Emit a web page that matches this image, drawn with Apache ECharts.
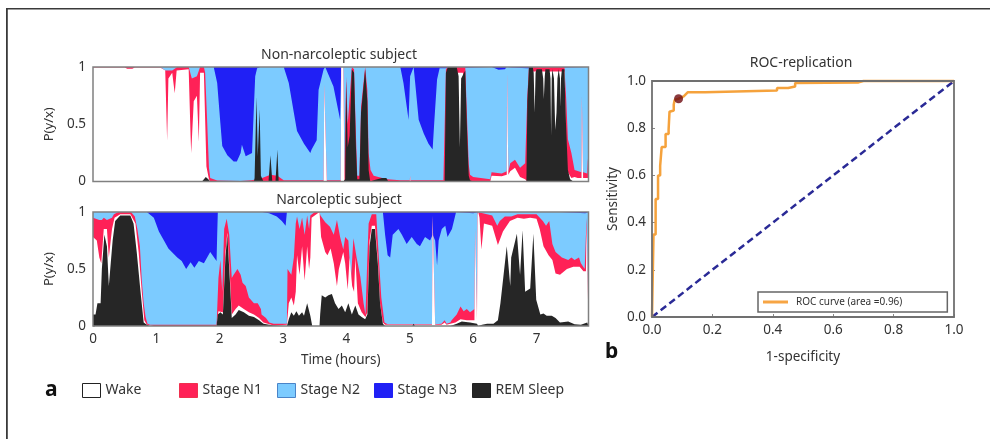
<!DOCTYPE html>
<html><head><meta charset="utf-8">
<style>html,body{margin:0;padding:0;background:#fff}#c{width:990px;height:439px}canvas{filter:blur(.5px)}</style>
<script src="https://cdn.jsdelivr.net/npm/echarts@6/dist/echarts.min.js"></script>
</head><body><div id="c"></div>
<script>
// Hypnodensity panels: each array is [hours, cumulative probability at the top of that stage]
const n3TopA=[[0,1],[7.82,1]];
const n2TopA=[[0,1],[1.905,1],[1.96,.86],[2.01,.51],[2.04,.31],[2.12,.23],[2.22,.175],[2.27,.175],[2.33,.25],[2.35,.32],[2.41,.22],[2.51,.25],[2.54,.66],[2.56,.92],[2.59,.99],[2.64,1],[3.01,1],[3.09,.86],[3.17,.6],[3.22,.44],[3.33,.33],[3.43,.25],[3.45,.28],[3.53,.36],[3.56,.8],[3.64,.98],[3.665,1],[3.69,1],[3.795,.83],[3.875,.61],[3.9,.54],[3.917,1],[4.85,1],[4.9,.86],[4.98,.54],[5.005,.92],[5.06,1],[5.085,.86],[5.14,.54],[5.22,.42],[5.295,.33],[5.36,.28],[5.385,.51],[5.43,.89],[5.47,.99],[5.49,1],[5.5,.995],[5.55,.99],[5.58,1],[6.295,1],[6.4,.975],[6.5,.98],[6.53,1],[6.6,.995],[6.85,.99],[6.88,1],[7.82,1]];
const n1TopA=[[0,1],[1.06,1],[1.14,.97],[1.25,.97],[1.33,1],[1.51,1],[1.56,.9],[1.64,.92],[1.69,1],[1.75,1],[1.77,.95],[1.8,.55],[1.83,.12],[1.85,.03],[1.96,.008],[2.33,.005],[2.5,.01],[2.59,.02],[2.67,.03],[2.8,.06],[2.91,.05],[3.01,.01],[3.64,.01],[3.65,.85],[3.675,.85],[3.69,.01],[3.91,.01],[3.917,1],[3.95,1],[3.97,.05],[3.995,.92],[4.02,.5],[4.085,1],[4.12,.98],[4.15,.4],[4.17,.05],[4.205,.05],[4.23,.65],[4.295,1],[4.33,.8],[4.35,.25],[4.38,.1],[4.43,.05],[4.64,.02],[4.85,.01],[5,.01],[5.005,.05],[5.01,.01],[5.53,.01],[5.57,.98],[5.6,1],[5.875,1],[5.9,.6],[5.93,.15],[5.95,.06],[6,.04],[6.27,.02],[6.29,.08],[6.45,.07],[6.53,.09],[6.535,.95],[6.55,.95],[6.555,.09],[6.585,.16],[6.66,.19],[6.74,.12],[6.82,.16],[6.855,.75],[6.88,1],[7.44,1],[7.47,.7],[7.495,.37],[7.55,.25],[7.6,.1],[7.71,.08],[7.715,.75],[7.73,.75],[7.735,.08],[7.8,.07],[7.81,.2],[7.82,.08]];
const wakeTopA=[[0,.995],[.5,.995],[.54,.985],[.62,.985],[.66,.995],[1.06,.995],[1.14,.97],[1.17,.36],[1.19,.9],[1.25,.95],[1.29,.77],[1.32,.97],[1.51,.98],[1.54,.4],[1.55,.25],[1.59,.7],[1.64,.75],[1.67,.35],[1.69,.95],[1.75,.95],[1.79,.13],[1.83,.02],[1.85,0],[3.64,0],[3.65,.85],[3.675,.85],[3.69,0],[3.91,0],[3.917,1],[3.95,1],[3.97,0],[5,0],[5.005,.05],[5.01,0],[5.6,0],[5.74,.95],[5.84,.95],[5.9,0],[6.27,0],[6.29,.05],[6.45,.045],[6.53,.06],[6.535,.95],[6.55,.95],[6.555,.06],[6.585,.09],[6.66,.12],[6.74,.04],[6.82,.02],[6.855,0],[6.88,.96],[7.44,.96],[7.48,0],[7.495,.08],[7.55,.03],[7.6,.04],[7.65,.03],[7.71,.03],[7.715,.75],[7.73,.75],[7.735,.03],[7.82,.03]];
const remTopA=[[0,0],[1.72,0],[1.75,.01],[1.78,.04],[1.82,.02],[1.85,0],[2.54,0],[2.55,.03],[2.58,.74],[2.6,.22],[2.63,.63],[2.65,.05],[2.69,0],[2.77,0],[2.8,.23],[2.83,0],[2.88,0],[2.91,.28],[2.93,0],[3.95,0],[3.98,.02],[3.995,.88],[4.02,.3],[4.05,.4],[4.085,.98],[4.12,.95],[4.15,.3],[4.17,.02],[4.205,.02],[4.23,.6],[4.295,.98],[4.33,.7],[4.35,.1],[4.375,0],[4.43,.01],[4.56,.03],[4.63,.03],[4.66,0],[5.55,0],[5.57,.95],[5.6,1],[5.74,1],[5.77,.92],[5.79,.3],[5.81,.9],[5.875,.97],[5.9,.5],[5.93,.05],[5.95,.01],[6,0],[6.84,0],[6.855,.7],[6.88,1],[6.94,1],[6.955,.95],[6.97,.6],[6.985,.95],[7,.98],[7.085,.98],[7.105,.9],[7.115,.72],[7.13,.92],[7.14,.98],[7.205,.98],[7.22,.9],[7.23,.4],[7.24,.9],[7.25,.98],[7.275,.9],[7.295,.45],[7.315,.6],[7.33,.9],[7.35,.98],[7.37,.9],[7.378,.65],[7.386,.9],[7.4,.98],[7.44,.98],[7.465,.5],[7.495,.1],[7.53,.02],[7.58,0],[7.82,0]];

const n3TopB=[[0,1],[7.82,1]];
const n2TopB=[[0,1],[.85,1],[.96,.95],[1.04,.83],[1.12,.75],[1.19,.68],[1.33,.6],[1.4,.57],[1.47,.5],[1.54,.56],[1.6,.51],[1.67,.57],[1.75,.55],[1.85,.65],[1.95,.57],[1.96,.8],[1.97,1],[2.67,1],[2.78,.99],[2.9,.96],[2.98,.92],[3.04,.88],[3.06,1],[4.575,1],[4.61,.8],[4.65,.62],[4.69,.6],[4.73,.8],[4.82,.85],[4.875,.8],[4.95,.72],[5.03,.78],[5.11,.72],[5.16,.7],[5.24,.78],[5.32,.75],[5.36,.8],[5.4,.75],[5.43,.53],[5.455,.75],[5.505,.85],[5.56,.88],[5.595,.78],[5.665,.85],[5.73,1],[6,.99],[6.08,1],[7.37,1],[7.4,.99],[7.77,.99],[7.8,1],[7.82,1]];
const n1TopB=[[0,.95],[.1,.93],[.14,.93],[.17,.95],[.22,.93],[.3,.95],[.33,.98],[.4,1],[.6,1],[.66,.96],[.7,.85],[.74,.7],[.77,.4],[.8,.2],[.83,.08],[.86,.02],[.9,.01],[1.95,.01],[1.96,.02],[1.98,.42],[2.01,.58],[2.04,.3],[2.07,.85],[2.11,.94],[2.15,.8],[2.19,.42],[2.22,.45],[2.28,.5],[2.33,.45],[2.36,.38],[2.41,.35],[2.46,.25],[2.49,.25],[2.54,.2],[2.6,.2],[2.65,.15],[2.66,.1],[2.73,.07],[2.78,.03],[2.85,.02],[3.06,.02],[3.07,.5],[3.09,.5],[3.13,.45],[3.17,.6],[3.2,.9],[3.22,.96],[3.26,.85],[3.3,.95],[3.34,.8],[3.38,.97],[3.41,.85],[3.43,.97],[3.46,.98],[3.5,1],[3.575,1],[3.59,.97],[3.665,.91],[3.74,.87],[3.8,.8],[3.85,.93],[3.9,.78],[3.95,.67],[3.98,.78],[4.03,.75],[4.07,.4],[4.11,.77],[4.16,.6],[4.22,.43],[4.27,.2],[4.3,.1],[4.33,.6],[4.35,.9],[4.4,.98],[4.47,.98],[4.5,.7],[4.55,.25],[4.6,.03],[4.65,.015],[5.03,.015],[5.06,.03],[5.1,.015],[5.35,.015],[5.36,.97],[5.39,.97],[5.4,.015],[5.43,.03],[5.5,.02],[5.55,.05],[5.58,.02],[5.64,.03],[5.66,.05],[5.74,.1],[5.8,.17],[5.85,.13],[5.9,.15],[5.95,.12],[6.02,.15],[6.03,.85],[6.05,.85],[6.06,.1],[6.07,1],[6.3,.97],[6.38,.88],[6.42,.92],[6.5,.96],[6.6,.96],[6.7,.98],[7,.98],[7.1,.92],[7.15,.88],[7.2,.92],[7.25,.72],[7.3,.65],[7.4,.6],[7.5,.58],[7.55,.6],[7.6,.58],[7.67,.6],[7.7,.55],[7.76,.5],[7.78,.5],[7.79,.95],[7.82,.95]];
const wakeTopB=[[0,.78],[.06,.75],[.1,.6],[.13,.55],[.17,.85],[.22,.85],[.25,.6],[.3,.85],[.34,.95],[.43,.98],[.59,.98],[.67,.9],[.72,.65],[.77,.3],[.81,.05],[.85,.01],[.96,0],[1.95,0],[1.98,.13],[2.05,.12],[2.09,.65],[2.12,.82],[2.16,.45],[2.19,.1],[2.25,.15],[2.3,.18],[2.38,.15],[2.46,.12],[2.54,.1],[2.62,.07],[2.69,.03],[2.85,.005],[3.06,.01],[3.09,.2],[3.13,.25],[3.17,.18],[3.2,.3],[3.22,.62],[3.26,.45],[3.3,.7],[3.34,.4],[3.38,.7],[3.41,.5],[3.43,.6],[3.45,.95],[3.575,1],[3.6,.78],[3.665,.65],[3.7,.62],[3.75,.68],[3.8,.55],[3.85,.35],[3.88,.5],[3.95,.65],[3.98,.55],[4.02,.32],[4.05,.6],[4.09,.35],[4.12,.3],[4.14,.6],[4.18,.2],[4.24,.12],[4.3,.08],[4.33,.12],[4.365,.75],[4.4,.88],[4.45,.88],[4.495,.58],[4.53,.2],[4.575,.03],[4.61,.01],[5.35,.01],[5.36,.97],[5.39,.97],[5.4,.01],[5.43,.02],[5.5,.01],[5.55,.03],[5.58,.01],[5.64,.02],[5.72,.03],[5.8,.06],[5.9,.05],[6.02,.05],[6.03,.85],[6.05,.85],[6.06,.06],[6.07,.98],[6.08,1],[6.1,.95],[6.13,.67],[6.17,.9],[6.3,.88],[6.39,.71],[6.47,.83],[6.58,.92],[6.7,.95],[6.8,.94],[6.9,.95],[7,.94],[7.05,.85],[7.11,.7],[7.19,.62],[7.25,.58],[7.3,.46],[7.37,.45],[7.48,.5],[7.58,.52],[7.68,.52],[7.74,.48],[7.78,.48],[7.79,.9],[7.82,.9]];
const remTopB=[[0,.1],[.04,.1],[.07,.2],[.12,.2],[.14,.5],[.18,.8],[.22,.7],[.25,.35],[.28,.35],[.31,.75],[.35,.92],[.43,.97],[.59,.97],[.64,.9],[.69,.65],[.75,.3],[.8,.03],[.85,.01],[.9,0],[1.95,0],[1.97,.1],[2.01,.12],[2.05,.1],[2.09,.6],[2.12,.8],[2.16,.4],[2.19,.07],[2.25,.1],[2.3,.14],[2.38,.12],[2.46,.09],[2.54,.08],[2.62,.05],[2.69,.02],[2.85,.005],[3.06,0],[3.09,.06],[3.13,.12],[3.17,.09],[3.21,.13],[3.25,.09],[3.3,.12],[3.33,.09],[3.38,.2],[3.43,.09],[3.46,0],[3.575,0],[3.585,.1],[3.61,.27],[3.665,.25],[3.715,.27],[3.77,.28],[3.82,.2],[3.875,.15],[3.927,.18],[3.98,.12],[4.03,.2],[4.085,.1],[4.14,.18],[4.19,.1],[4.24,.08],[4.295,.06],[4.33,.1],[4.365,.7],[4.4,.85],[4.45,.85],[4.495,.55],[4.53,.2],[4.575,.02],[4.61,0],[5.04,0],[5.06,.02],[5.08,0],[5.64,0],[5.74,.02],[5.82,.04],[5.95,.03],[6.06,.02],[6.08,0],[6.14,.01],[6.22,.02],[6.32,.02],[6.39,.05],[6.43,.2],[6.48,.45],[6.53,.7],[6.585,.35],[6.6,.6],[6.69,.81],[6.74,.45],[6.78,.84],[6.82,.3],[6.9,.33],[6.95,.81],[6.995,.23],[7.06,.1],[7.11,.11],[7.16,.09],[7.24,.09],[7.3,.07],[7.37,.03],[7.5,.04],[7.6,.015],[7.7,.01],[7.8,.03],[7.82,.03]];

// ROC replication
const rocCurve=[[0,0],[.005,0],[.005,.35],[.012,.35],[.012,.5],[.02,.5],[.02,.6],[.027,.6],[.027,.64],[.032,.64],[.032,.72],[.045,.72],[.045,.775],[.055,.775],[.055,.795],[.058,.795],[.058,.87],[.072,.875],[.072,.9],[.075,.92],[.088,.925],[.105,.935],[.118,.952],[.176,.952],[.176,.96],[.414,.96],[.414,.97],[.451,.97],[.451,.977],[.474,.977],[.474,.992],[.684,.994],[.7,1],[1,1]];
const rocChance=[[0,0],[1,1]];
const rocPoint=[[.088,.925]];

const stageNames=['Wake','Stage N1','Stage N2','Stage N3','REM Sleep'];
const stageColors=['#ffffff','#ff2157','#7ccbff','#2020f5','#262626'];
const stageBorders=['#222222','#f0304f','#4a84c8','#2020f5','#222222'];
const legendLefts=[82,179,277,374,472];
const panelTitles=['Non-narcoleptic subject','Narcoleptic subject','ROC-replication'];
const rocLegend='ROC curve (area =0.96)';

const FONT='"Noto Sans",sans-serif', TXT='#333333', AXISC='#808080';
function area(name,color,data,idx){
  return {type:'line',name,data,xAxisIndex:idx,yAxisIndex:idx,showSymbol:false,symbol:'none',silent:true,
    color:color,itemStyle:{color:color},lineStyle:{width:0,color:color},areaStyle:{color:color,opacity:1},clip:true};
}
function panel(idx,arr){ // painted from the top stage downward
  return [area('Stage N3',stageColors[3],arr[0],idx),area('Stage N2',stageColors[2],arr[1],idx),
          area('Stage N1',stageColors[1],arr[2],idx),area('Wake',stageColors[0],arr[3],idx),
          area('REM Sleep',stageColors[4],arr[4],idx)];
}
const boxGrid={show:true,backgroundColor:'transparent',borderColor:AXISC,borderWidth:1.5,z:6};
const tick={show:true,inside:true,length:2,lineStyle:{color:'#aaaaaa',width:1}};
const lab={color:TXT,fontFamily:FONT,fontSize:13.5};
function hourAxis(idx,showLabels){
  return {type:'value',gridIndex:idx,min:0,max:7.82,interval:1,axisLine:{show:false},axisTick:tick,splitLine:{show:false},
    axisLabel:Object.assign({},lab,{show:showLabels,margin:6,showMaxLabel:false,formatter:v=>Number.isInteger(v)?String(v):''}),
    name:showLabels?'Time (hours)':'',nameLocation:'middle',nameGap:27,nameTextStyle:{color:TXT,fontFamily:FONT,fontSize:13.5}};
}
function probAxis(idx){
  return {type:'value',gridIndex:idx,min:0,max:1,interval:.5,axisLine:{show:false},axisTick:tick,splitLine:{show:false},
    axisLabel:Object.assign({},lab,{margin:7}),name:'P(y/x)',nameLocation:'middle',nameGap:28,nameTextStyle:{color:TXT,fontFamily:FONT,fontSize:13}};
}
function rocAxis(idx,name,gap){
  return {type:'value',gridIndex:idx,min:0,max:1,interval:.2,axisLine:{show:false},axisTick:Object.assign({},tick,{length:3,lineStyle:{color:'#888',width:1}}),splitLine:{show:false},
    axisLabel:Object.assign({},lab,{margin:6,formatter:v=>v.toFixed(1)}),name,nameLocation:'middle',nameGap:gap,nameTextStyle:{color:TXT,fontFamily:FONT,fontSize:13.5}};
}
const legends=stageNames.map((n,i)=>({show:true,left:legendLefts[i],top:383,orient:'horizontal',padding:0,itemGap:0,itemWidth:18,itemHeight:14,selectedMode:false,
  data:[{name:n,icon:'rect',itemStyle:{color:stageColors[i],borderColor:stageBorders[i],borderWidth:1}}],
  textStyle:{color:TXT,fontFamily:FONT,fontSize:14}}));
legends.push({show:true,left:758,top:292,padding:[5,45,5,5],itemWidth:25,itemHeight:3,itemGap:0,selectedMode:false,borderColor:'#666',borderWidth:1.5,backgroundColor:'#fff',
  data:[{name:rocLegend,icon:'rect',itemStyle:{color:'#f7a544'}}],textStyle:{color:TXT,fontFamily:FONT,fontSize:10,padding:[0,0,0,3]},z:8});

const option={animation:false,backgroundColor:'#fff',textStyle:{fontFamily:FONT},
  title:[{text:panelTitles[0],left:339,top:48,textAlign:'center',padding:0},{text:panelTitles[1],left:339,top:193,textAlign:'center',padding:0},{text:panelTitles[2],left:801,top:56,textAlign:'center',padding:0}]
    .map(t=>Object.assign(t,{textStyle:{color:TXT,fontFamily:FONT,fontSize:14,fontWeight:'normal'}})),
  grid:[Object.assign({left:93,top:67,width:495.5,height:114.5},boxGrid),Object.assign({left:93,top:212,width:495.5,height:114},boxGrid),Object.assign({left:652,top:81,width:302,height:236},boxGrid,{borderWidth:1.8,borderColor:'#707070'})],
  xAxis:[hourAxis(0,false),hourAxis(1,true),rocAxis(2,'1-specificity',33)],
  yAxis:[probAxis(0),probAxis(1),rocAxis(2,'Sensitivity',32)],
  legend:legends,
  series:[...panel(0,[n3TopA,n2TopA,n1TopA,wakeTopA,remTopA]),...panel(1,[n3TopB,n2TopB,n1TopB,wakeTopB,remTopB]),
    {type:'line',name:'Chance',data:rocChance,xAxisIndex:2,yAxisIndex:2,showSymbol:false,symbol:'none',lineStyle:{color:'#2a2a96',width:2.5,type:[7,4]}},
    {type:'line',name:rocLegend,data:rocCurve,xAxisIndex:2,yAxisIndex:2,showSymbol:false,symbol:'none',color:'#f7a544',lineStyle:{color:'#f5a23c',width:2.5},clip:false},
    {type:'scatter',name:'Operating point',data:rocPoint,xAxisIndex:2,yAxisIndex:2,symbolSize:9,itemStyle:{color:'#6e0a0f'},z:5}],
  graphic:[
    {type:'rect',shape:{x:6,y:8,width:1.8,height:431},style:{fill:'#3a3a3a'},silent:true},
    {type:'rect',shape:{x:6,y:8,width:984,height:1.5},style:{fill:'#3a3a3a'},silent:true},
    {type:'text',left:45,top:380,style:{text:'a',fill:'#111',font:'bold 21px '+FONT}},
    {type:'text',left:605,top:342,style:{text:'b',fill:'#111',font:'bold 21px '+FONT}}
  ]};
const chart=echarts.init(document.getElementById('c'),null,{renderer:'canvas',width:990,height:439});
chart.setOption(option);
</script></body></html>
